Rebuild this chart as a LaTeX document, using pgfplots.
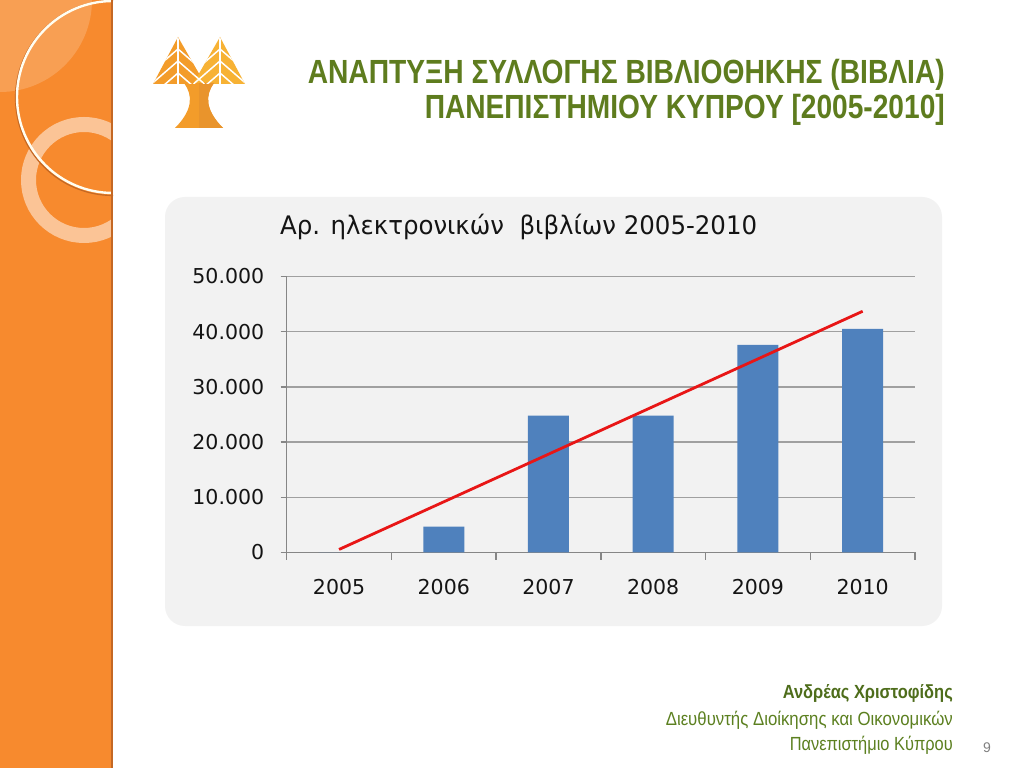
\documentclass[border=0pt]{standalone}
\usepackage{fontspec}
\usepackage{graphicx}
\usepackage{pgfplots}
\pgfplotsset{compat=1.18}
\newfontfamily\dv{DejaVu Sans}
\newfontfamily\ls{Liberation Sans}
\definecolor{stripe}{RGB}{247,138,46}
\definecolor{stripedark}{RGB}{196,104,36}
\definecolor{panel}{RGB}{242,242,242}
\definecolor{barblue}{RGB}{79,129,189}
\definecolor{trendred}{RGB}{232,22,22}
\definecolor{titlegreen}{RGB}{94,124,30}
\definecolor{footgreen}{RGB}{92,128,32}
\definecolor{axisgray}{RGB}{134,134,134}
\definecolor{gridgray}{RGB}{160,160,160}
\definecolor{ticktext}{RGB}{20,20,20}
\definecolor{logoA}{RGB}{243,156,42}
\definecolor{logoB}{RGB}{247,178,52}
\definecolor{logoC}{RGB}{233,148,44}
\newcommand{\tickf}{\dv\fontsize{20.5}{21}\selectfont}
\begin{document}
\begin{tikzpicture}[x=1pt,y=1pt]
\useasboundingbox (0,0) rectangle (1024,768);
\fill[white] (0,0) rectangle (1024,768);
% orange stripe
\fill[stripe] (0,0) rectangle (113,768);
\begin{scope}
\clip (0,0) rectangle (113,768);
\fill[white,opacity=0.18] (0,768) circle (92);
\draw[white,opacity=0.5,line width=15pt] (84,588) circle (55.5);
\draw[stripedark,line width=1.2pt] (113,670) circle (97.5);
\draw[white!95!yellow,line width=2.4pt] (113,671) circle (96);
\fill[stripedark] (110.5,0) rectangle (113,768);
\end{scope}
% logo
\begin{scope}
\fill[logoA] (178,731) -- (153,684) -- (205,684) -- cycle;
\fill[logoB] (220,731) -- (193,684) -- (245,684) -- cycle;
\fill[logoA] (184,685) .. controls (193,673) and (193,658) .. (175,640) -- (223,640) .. controls (205,658) and (205,673) .. (214,685) -- cycle;
\fill[logoC] (199,685) -- (214,685) .. controls (205,673) and (205,658) .. (223,640) -- (199,640) -- cycle;
\begin{scope}
\clip (178,731) -- (153,684) -- (205,684) -- cycle;
\draw[white,line width=1.5pt] (178,733) -- (178,683);
\foreach \yy in {719,707,695} {\draw[white,line width=1.5pt] (148,\yy-26) -- (178,\yy) -- (208,\yy-26);}
\end{scope}
\begin{scope}
\clip (220,731) -- (193,684) -- (245,684) -- cycle;
\draw[white,line width=1.5pt] (220,733) -- (220,683);
\foreach \yy in {719,707,695} {\draw[white,line width=1.5pt] (190,\yy-26) -- (220,\yy) -- (250,\yy-26);}
\end{scope}
\end{scope}
% slide title
\node[anchor=base east,inner sep=0,text=titlegreen] at (945,684) {\resizebox{637pt}{\height}{\ls\bfseries\fontsize{33.5}{34}\selectfont ΑΝΑΠΤΥΞΗ ΣΥΛΛΟΓΗΣ ΒΙΒΛΙΟΘΗΚΗΣ (ΒΙΒΛΙΑ)}};
\node[anchor=base east,inner sep=0,text=titlegreen] at (945,649) {\resizebox{520pt}{\height}{\ls\bfseries\fontsize{33.5}{34}\selectfont ΠΑΝΕΠΙΣΤΗΜΙΟΥ ΚΥΠΡΟΥ [2005-2010]}};
% chart panel
\fill[panel,rounded corners=20pt] (165,142) rectangle (942,571);
\node[anchor=base west,inner sep=0,text=ticktext] at (280,533) {\resizebox{477pt}{\height}{\dv\fontsize{25.5}{26}\selectfont Αρ. ηλεκτρονικών\ \ βιβλίων 2005-2010}};
\begin{axis}[
  at={(286.7pt,215.5pt)}, anchor=south west,
  scale only axis, width=628.3pt, height=276pt,
  xmin=-0.5, xmax=5.5, ymin=0, ymax=50000,
  scaled y ticks=false,
  axis x line*=bottom, axis y line*=left,
  axis line style={draw=axisgray,line width=1.3pt},
  xtick={0,1,2,3,4,5},
  xticklabels={\mbox{\tickf 2005},\mbox{\tickf 2006},\mbox{\tickf 2007},\mbox{\tickf 2008},\mbox{\tickf 2009},\mbox{\tickf 2010}},
  minor xtick={-0.5,0.5,1.5,2.5,3.5,4.5,5.5},
  ytick={0,10000,20000,30000,40000,50000},
  yticklabels={\mbox{\tickf 0},\mbox{\tickf 10.000},\mbox{\tickf 20.000},\mbox{\tickf 30.000},\mbox{\tickf 40.000},\mbox{\tickf 50.000}},
  tick align=outside,
  major tick length=6pt, minor tick length=7pt,
  tick style={draw=axisgray,line width=1.3pt},
  major x tick style={draw=none},
  ymajorgrids, grid style={draw=gridgray,line width=1.3pt},
  xticklabel style={text=ticktext,anchor=base,yshift=-36pt},
  yticklabel style={text=ticktext,anchor=east,xshift=-13pt},
  clip=false,
]
\addplot[ybar, bar width=41pt, fill=barblue, draw=none] coordinates {
  (0,0) (1,4700) (2,24800) (3,24800) (4,37600) (5,40500)};
\addplot[trendred, line width=2.8pt, mark=none] coordinates {(0,550) (5,43700)};
\end{axis}
% footer
\node[anchor=base east,inner sep=0,text=footgreen!85!black] at (953,70) {\resizebox{170pt}{\height}{\ls\bfseries\fontsize{19}{19}\selectfont Ανδρέας Χριστοφίδης}};
\node[anchor=base east,inner sep=0,text=footgreen] at (953,43) {\resizebox{287pt}{\height}{\ls\fontsize{19}{19}\selectfont Διευθυντής Διοίκησης και Οικονομικών}};
\node[anchor=base east,inner sep=0,text=footgreen] at (953,18) {\resizebox{163pt}{\height}{\ls\fontsize{19}{19}\selectfont Πανεπιστήμιο Κύπρου}};
\node[anchor=base,inner sep=0,text=gray] at (987,16) {\ls\fontsize{14}{14}\selectfont 9};
\end{tikzpicture}
\end{document}
